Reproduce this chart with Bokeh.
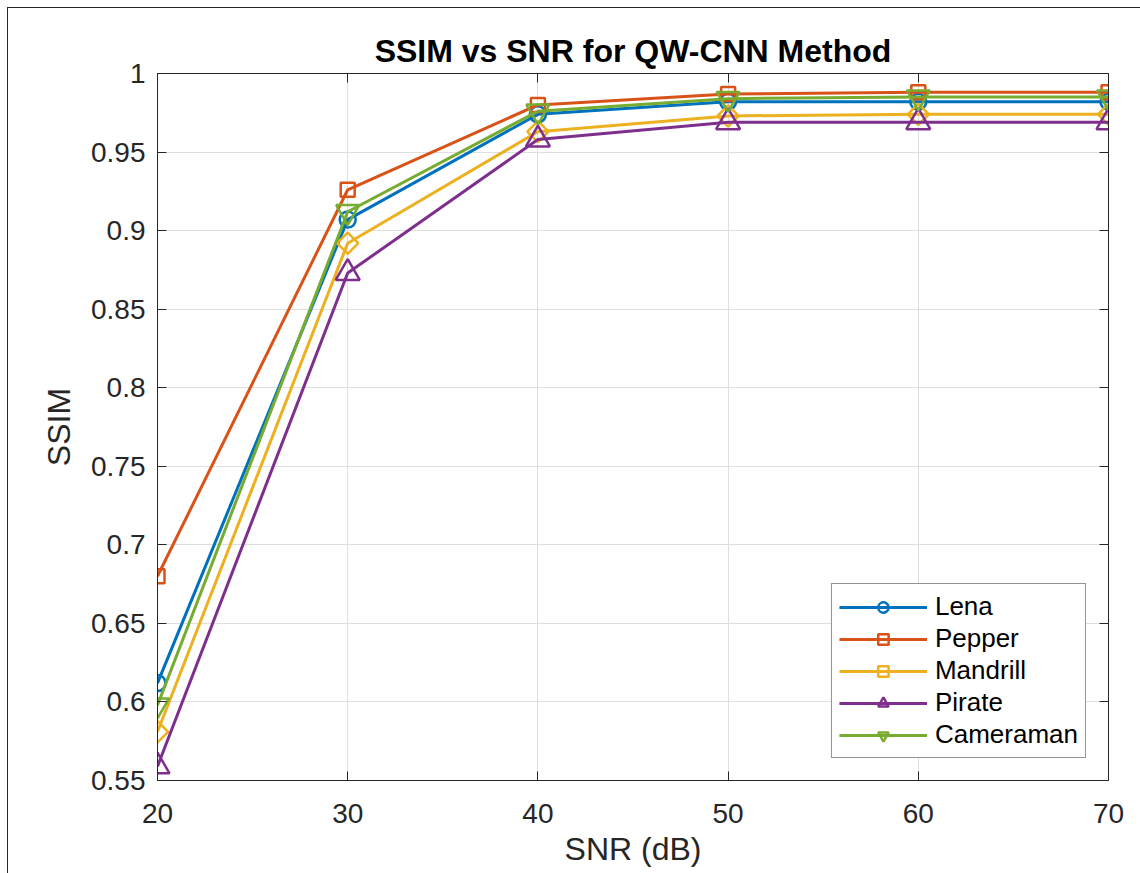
from bokeh.plotting import figure
from bokeh.models import LinearAxis, FixedTicker, Legend, LegendItem, Range1d
from bokeh.embed import file_html
from bokeh.resources import INLINE

# ---- data ----
snr = [20, 30, 40, 50, 60, 70]
lena = [0.612, 0.907, 0.974, 0.982, 0.982, 0.982]
pepper = [0.680, 0.926, 0.980, 0.987, 0.988, 0.988]
mandrill = [0.581, 0.892, 0.963, 0.973, 0.974, 0.974]
pirate = [0.559, 0.873, 0.958, 0.969, 0.969, 0.969]
cameraman = [0.598, 0.912, 0.976, 0.984, 0.985, 0.985]

series_names = ["Lena", "Pepper", "Mandrill", "Pirate", "Cameraman"]
series_values = [lena, pepper, mandrill, pirate, cameraman]

x_ticks = [20, 30, 40, 50, 60, 70]
y_ticks = [0.55, 0.6, 0.65, 0.7, 0.75, 0.8, 0.85, 0.9, 0.95, 1.0]
y_tick_labels = ["0.55", "0.6", "0.65", "0.7", "0.75", "0.8", "0.85", "0.9", "0.95", "1"]

# ---- styles ----
colors = ["#0072BD", "#D95319", "#EDB120", "#7E2F8E", "#77AC30"]
markers = ["circle", "square", "square", "triangle", "inverted_triangle"]
angles = [0.0, 0.0, 0.785398, 0.0, 0.0]
msizes = [16, 14, 15, 24, 23]
FONT = "Liberation Sans"
DARK = "#262626"

p = figure(width=1132, height=865,
           x_range=Range1d(20, 70), y_range=Range1d(0.55, 1.0),
           output_backend="svg", toolbar_location=None,
           min_border_left=149, min_border_right=32,
           min_border_top=65, min_border_bottom=93,
           title="SSIM vs SNR for QW-CNN Method")
p.styles = {"outline": "1px solid #262626", "margin": "8px 0 0 8px"}
p.outline_line_color = None
p.background_fill_color = "white"
p.border_fill_color = "white"

p.title.text_font = FONT
p.title.text_font_size = "32px"
p.title.text_font_style = "bold"
p.title.text_color = "black"
p.title.align = "center"
p.title.standoff = 9

ytick_over = {t: l for t, l in zip(y_ticks, y_tick_labels)}

def style_axis(ax, ticks, show_labels):
    ax.ticker = FixedTicker(ticks=ticks)
    ax.axis_line_color = DARK
    ax.axis_line_width = 1
    ax.major_tick_line_color = DARK
    ax.major_tick_in = 9
    ax.major_tick_out = 0
    ax.minor_tick_line_color = None
    ax.major_label_text_font = FONT
    ax.major_label_text_color = DARK
    if show_labels:
        ax.major_label_text_font_size = "28px"
    else:
        ax.major_label_text_font_size = "0px"
        ax.major_label_text_color = None
        ax.major_label_standoff = 0

xa = p.xaxis[0]
ya = p.yaxis[0]
style_axis(xa, x_ticks, True)
style_axis(ya, y_ticks, True)
ya.major_label_overrides = ytick_over
xa.major_label_standoff = 23
ya.major_label_standoff = 12
xa.axis_label = "SNR (dB)"
ya.axis_label = "SSIM"
for ax in (xa, ya):
    ax.axis_label_text_font = FONT
    ax.axis_label_text_font_size = "32px"
    ax.axis_label_text_font_style = "normal"
    ax.axis_label_text_color = DARK
xa.axis_label_standoff = 5
ya.axis_label_standoff = 11

top_ax = LinearAxis()
right_ax = LinearAxis()
style_axis(top_ax, x_ticks, False)
style_axis(right_ax, y_ticks, False)
p.add_layout(top_ax, "above")
p.add_layout(right_ax, "right")

p.xgrid.ticker = FixedTicker(ticks=x_ticks)
p.ygrid.ticker = FixedTicker(ticks=y_ticks)
p.grid.grid_line_color = "#dfdfdf"
p.grid.grid_line_width = 1

items = []
for name, vals, c, m, a, s in zip(series_names, series_values, colors, markers, angles, msizes):
    lr = p.line(snr, vals, line_color=c, line_width=3)
    sr = p.scatter(snr, vals, marker=m, angle=a, size=s, fill_color=None,
                   line_color=c, line_width=2.5)
    items.append(LegendItem(label=name, renderers=[lr, sr]))

legend = Legend(items=items, location="bottom_right", margin=22,
                glyph_width=88, glyph_height=26, label_height=26,
                label_standoff=8, spacing=1, padding=7,
                label_text_font=FONT, label_text_font_size="26px",
                label_text_color="black",
                border_line_color=DARK, border_line_width=1,
                background_fill_color="white", background_fill_alpha=1)
p.add_layout(legend)

open("out.html", "w").write(file_html(p, INLINE))
